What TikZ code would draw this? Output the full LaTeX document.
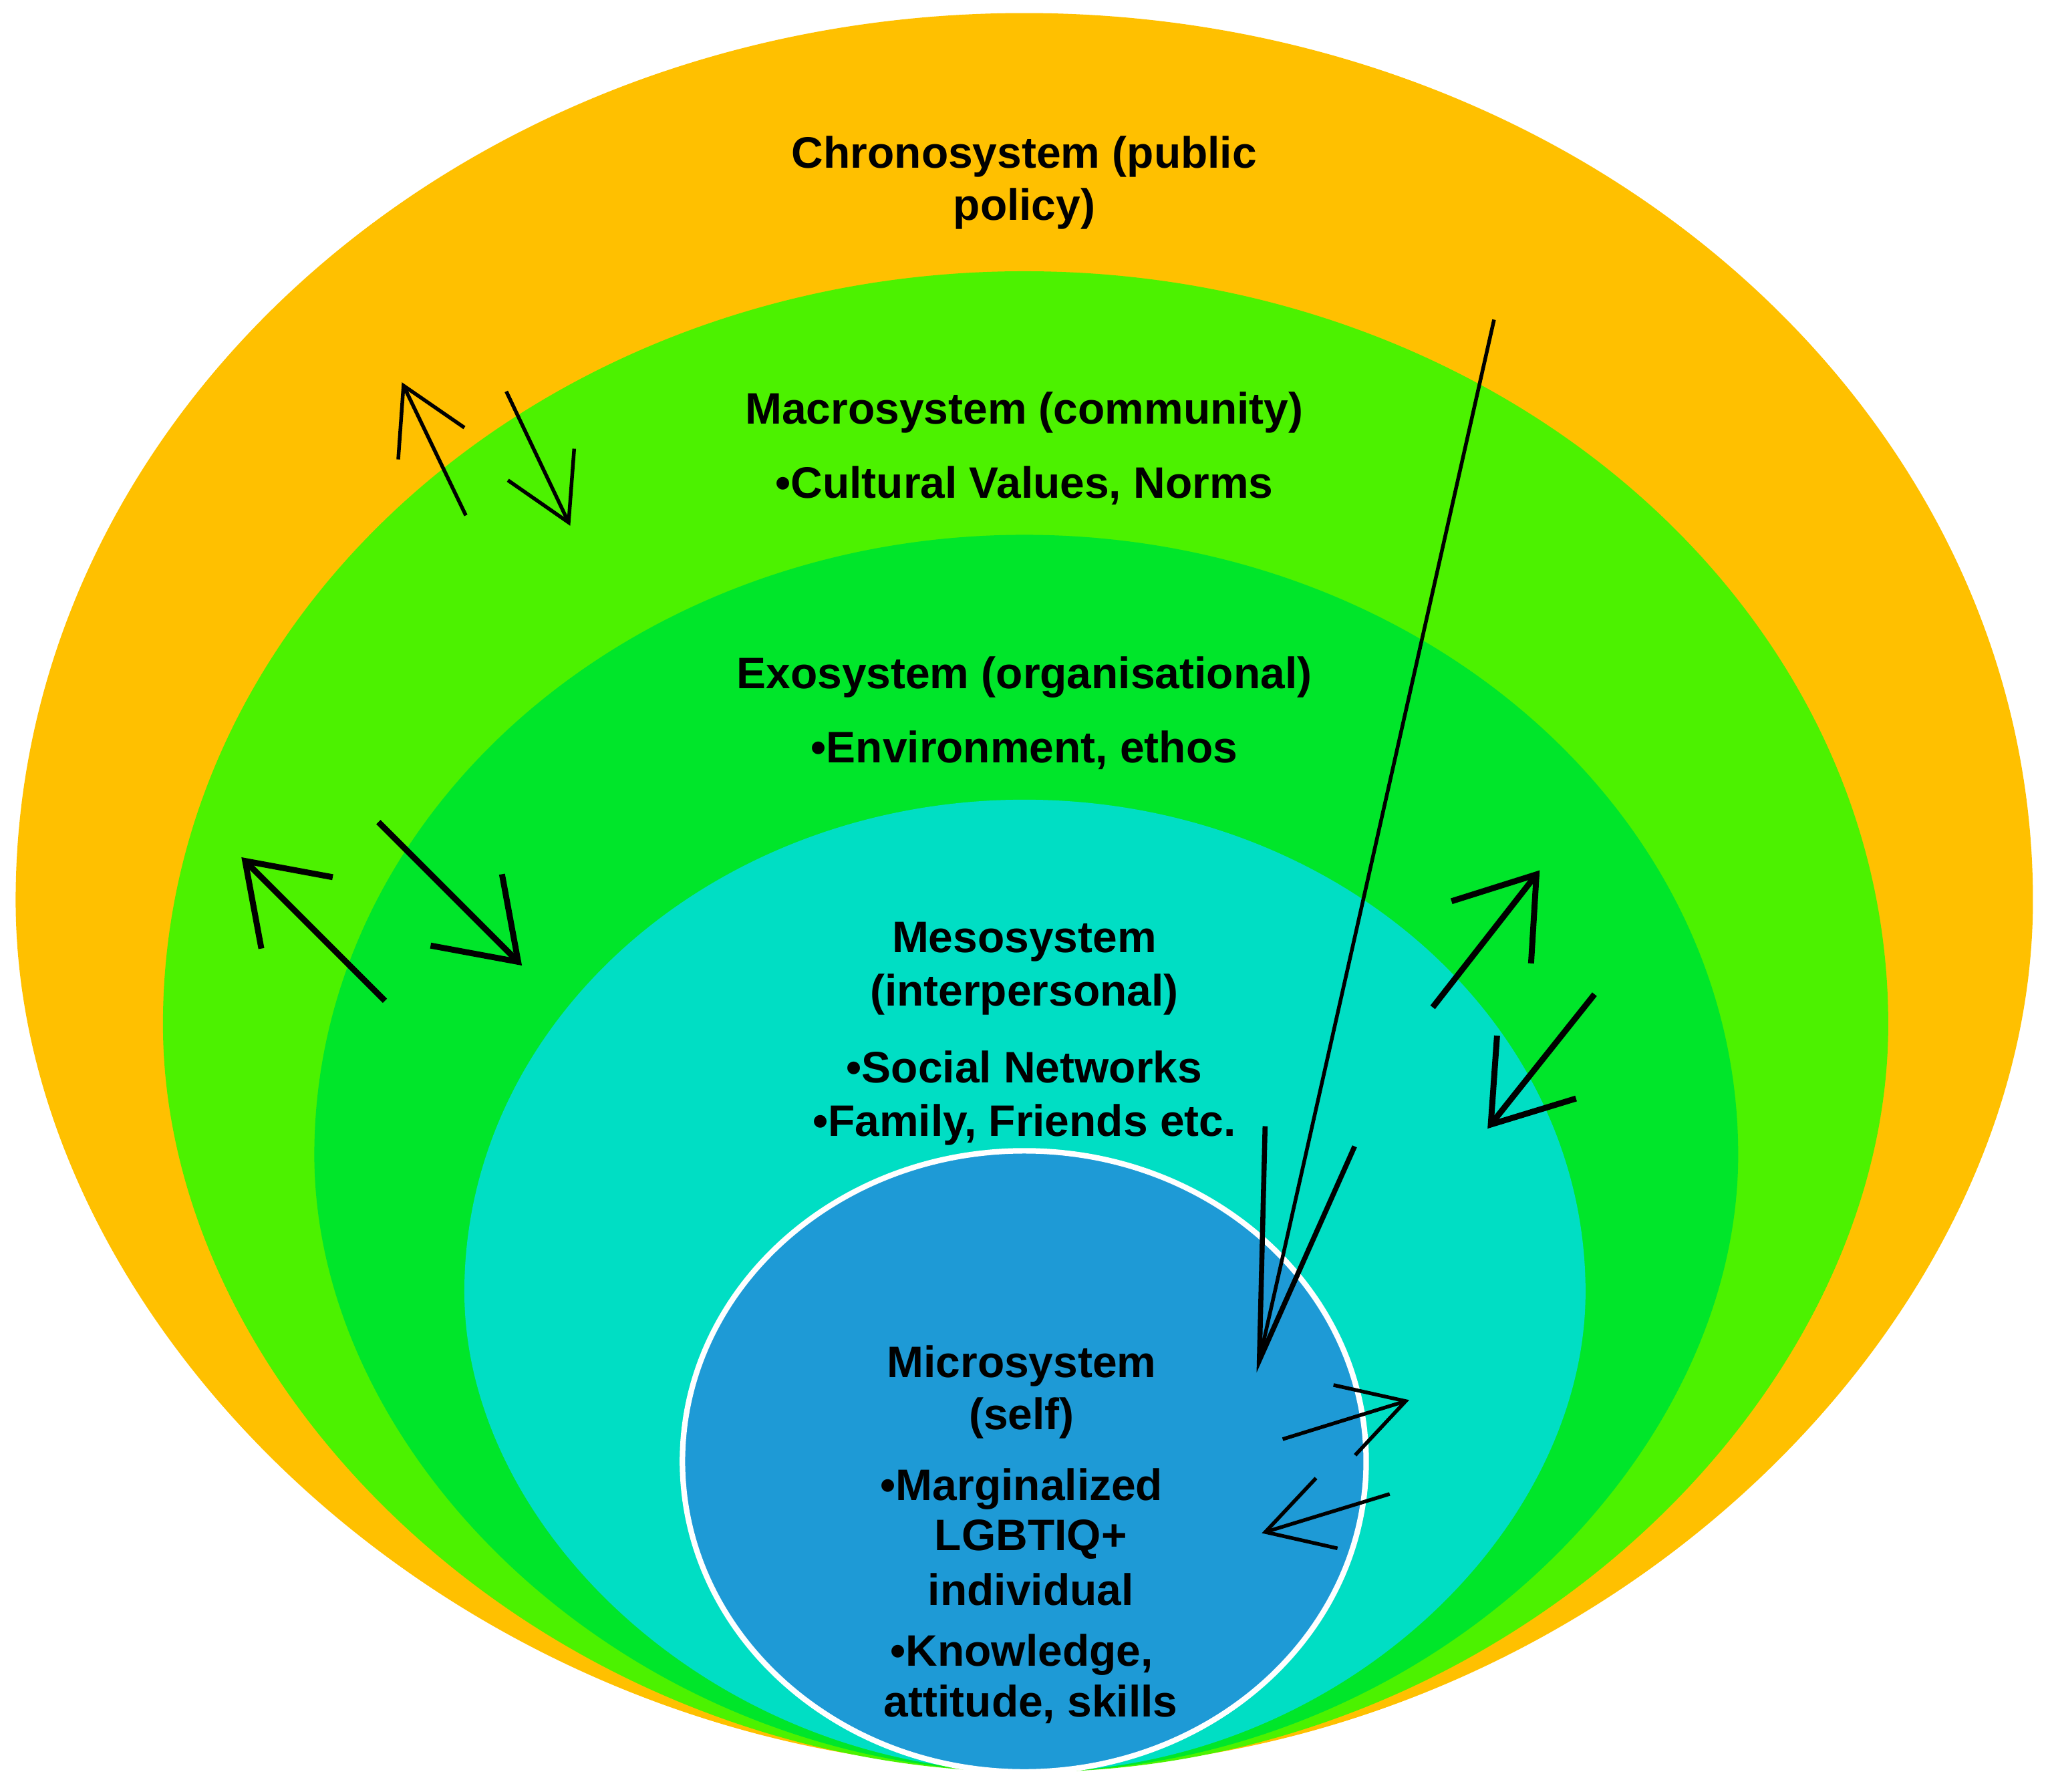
\documentclass[tikz,border=0pt]{standalone}
\usepackage{fontspec}
\setmainfont{Liberation Sans}
\usetikzlibrary{arrows.meta}
\definecolor{chrono}{HTML}{FFC000}
\definecolor{macro}{HTML}{4CF200}
\definecolor{exo}{HTML}{00E62A}
\definecolor{meso}{HTML}{00DEC4}
\definecolor{micro}{HTML}{1E9AD6}
\begin{document}
\begin{tikzpicture}[x=0.01cm,y=-0.01cm,
  lay/.style={draw=white,line width=1.2pt},
  lbl/.style={font=\fontsize{9.6}{11.5}\selectfont\bfseries,inner sep=0pt},
  thin/.style={line width=0.8pt,-{Straight Barb[length=14pt,width=16pt,line width=0.8pt]}},
  thick/.style={line width=1.3pt,-{Straight Barb[length=16pt,width=22pt,line width=1.3pt]}},
  big/.style={line width=0.8pt,-{Straight Barb[length=50pt,width=20pt,line width=1.1pt]}}]
\useasboundingbox (0,0) rectangle (1568,1373);
% egg: bottom (790,1355)
\newcommand{\egg}[5]{% color, xl, xr, ym, yt
  \fill[#1] (790,1356) .. controls ({#2+(790-#2)*0.45},1356) and (#2,{#4+(1356-#4)*0.5}) .. (#2,#4)
    .. controls (#2,{#4-(#4-#5)*0.552}) and ({785-(785-#2)*0.552},#5) .. (785,#5)
    .. controls ({785+(#3-785)*0.552},#5) and (#3,{#4-(#4-#5)*0.552}) .. (#3,#4)
    .. controls (#3,{#4+(1356-#4)*0.5}) and ({#3-(#3-790)*0.45},1356) .. (790,1356) -- cycle;}
\egg{chrono}{12}{1558}{690}{10}
\begin{scope}[every path/.style={draw=white,line width=1.2pt}]
\egg{macro}{127}{1445}{785}{210}
\egg{exo}{243}{1330}{885}{412}
\egg{meso}{358}{1213}{990}{615}
\end{scope}
\path[lay,fill=micro] (785,1120) ellipse [x radius=262, y radius=238];
% texts
\node[lbl] (t1) at (785,120) {Chronosystem (public};
\node[lbl] (t2) at (785,160) {policy)};
\node[lbl] (t3) at (785,316) {Macrosystem (community)};
\node[lbl] (t4) at (785,372) {•Cultural Values, Norms};
\node[lbl] (t5) at (785,519) {Exosystem (organisational)};
\node[lbl] (t6) at (785,575) {•Environment, ethos};
\node[lbl] (t7) at (785,722) {Mesosystem};
\node[lbl] (t8) at (785,762) {(interpersonal)};
\node[lbl] (t9) at (785,818) {•Social Networks};
\node[lbl] (t10) at (785,862) {•Family, Friends etc.};
\node[lbl] (t11) at (783,1047) {Microsystem};
\node[lbl] (t12) at (783,1087) {(self)};
\node[lbl] (t13) at (783,1141) {•Marginalized};
\node[lbl] (t14) at (790,1180) {LGBTIQ+};
\node[lbl] (t15) at (790,1218) {individual};
\node[lbl] (t16) at (783,1268) {•Knowledge,};
\node[lbl] (t17) at (790,1306) {attitude, skills};
% arrows
\coordinate (a1) at (357,395); \coordinate (b1) at (308,293);
\coordinate (a2) at (388,300); \coordinate (b2) at (437,403);
\coordinate (a3) at (295,767); \coordinate (b3) at (185,657);
\coordinate (a4) at (290,630); \coordinate (b4) at (400,740);
\coordinate (a5) at (1098,772); \coordinate (b5) at (1180,667);
\coordinate (a6) at (1222,762); \coordinate (b6) at (1140,865);
\coordinate (a7) at (1145,245); \coordinate (b7) at (963,1052);
\coordinate (a8) at (983,1103); \coordinate (b8) at (1080,1073);
\coordinate (a9) at (1065,1145); \coordinate (b9) at (967,1175);
\draw[thin] (a1) -- (b1);
\draw[thin] (a2) -- (b2);
\draw[thick] (a3) -- (b3);
\draw[thick] (a4) -- (b4);
\draw[thick] (a5) -- (b5);
\draw[thick] (a6) -- (b6);
\draw[big] (a7) -- (b7);
\draw[thin] (a8) -- (b8);
\draw[thin] (a9) -- (b9);
\end{tikzpicture}
\end{document}
